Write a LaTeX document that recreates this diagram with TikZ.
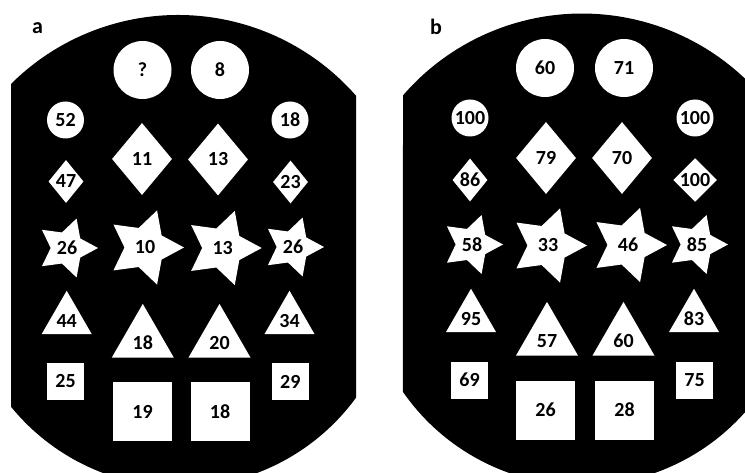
\documentclass[tikz,border=0pt]{standalone}
\usepackage{fontspec}
\setmainfont{Carlito}
\usetikzlibrary{shapes.geometric}

\begin{document}
\begin{tikzpicture}[
  x=1pt, y=-1pt,
  tile/.style={fill=white, inner sep=0pt, font=\bfseries\fontsize{20}{20}\selectfont},
  bigdisc/.style={tile, circle, minimum size=58},
  smalldisc/.style={tile, circle, minimum size=37},
  bigdia/.style={tile, diamond, minimum width=60, minimum height=72},
  smalldia/.style={tile, diamond, minimum width=35, minimum height=43},
  bigstar/.style={tile, star, star points=5, star point ratio=1.9, shape border rotate=-18, minimum size=78},
  smallstar/.style={bigstar, minimum size=62},
  bigtri/.style={tile, regular polygon, regular polygon sides=3, minimum size=71.6, text height=19pt, text depth=0pt},
  smalltri/.style={bigtri, minimum size=57.7, text height=15pt},
  bigsq/.style={tile, rectangle, minimum size=59},
  smallsq/.style={tile, rectangle, minimum size=37},
  tag/.style={font=\bfseries\fontsize{22}{22}\selectfont}
]
\useasboundingbox (0,0) rectangle (745,473);
\clip (0,0) rectangle (745,473);

% the two dark plates
\fill (11,84) arc[start angle=225.1, end angle=318.8, radius=236.6]
  -- (356,397.7) arc[start angle=36.17, end angle=140.82, radius=218] -- cycle;
\fill (403,95.4) arc[start angle=220.84, end angle=322.6, radius=236.6]
  -- (770,377.8) arc[start angle=30.4, end angle=145.2, radius=218] -- cycle;

\node[tag] (tagA) at (37.5,28.5) {a};
\node[tag] (tagB) at (436,27) {b};

% panel a
\node[bigdisc] (aC1) at (142.5,70) {?};
\node[bigdisc] (aC2) at (220,70) {8};
\node[smalldisc] (aC3) at (65.5,120) {52};
\node[smalldisc] (aC4) at (290,120) {18};
\node[bigdia] (aD1) at (142,159) {11};
\node[bigdia] (aD2) at (218,159.5) {13};
\node[smalldia] (aD3) at (66,181.5) {47};
\node[smalldia] (aD4) at (290.5,182) {23};
\node[smallstar] (aS1) at (67,248) {26};
\node[bigstar] (aS2) at (145,247.5) {10};
\node[bigstar] (aS3) at (222.7,248) {13};
\node[smallstar] (aS4) at (293,247) {26};
\node[smalltri] (aT1) at (66.7,319.6) {44};
\node[bigtri] (aT2) at (142.8,339.7) {18};
\node[bigtri] (aT3) at (219.5,339.7) {20};
\node[smalltri] (aT4) at (289.5,319.6) {34};
\node[smallsq] (aQ1) at (65.5,381.5) {25};
\node[bigsq] (aQ2) at (142.5,411.5) {19};
\node[bigsq] (aQ3) at (220,411.5) {18};
\node[smallsq] (aQ4) at (290.3,381.7) {29};

% panel b
\begin{scope}[shift={(404,-2)}]
\node[bigdisc] (bC1) at (141,70) {60};
\node[bigdisc] (bC2) at (220,70) {71};
\node[smalldisc] (bC3) at (66,120) {100};
\node[smalldisc] (bC4) at (291,120) {100};
\node[bigdia] (bD1) at (142,160) {79};
\node[bigdia] (bD2) at (218,160) {70};
\node[smalldia] (bD3) at (66,182) {86};
\node[smalldia] (bD4) at (291,182) {100};
\node[smallstar] (bS1) at (68,246.5) {58};
\node[bigstar] (bS2) at (144,247.5) {33};
\node[bigstar] (bS3) at (224,247) {46};
\node[smallstar] (bS4) at (293,246.5) {85};
\node[smalltri] (bT1) at (67,319.6) {95};
\node[bigtri] (bT2) at (143,339.7) {57};
\node[bigtri] (bT3) at (219.5,339.7) {60};
\node[smalltri] (bT4) at (290,319.6) {83};
\node[smallsq] (bQ1) at (65.5,382) {69};
\node[bigsq] (bQ2) at (141.5,412) {26};
\node[bigsq] (bQ3) at (220.5,412) {28};
\node[smallsq] (bQ4) at (290.5,382) {75};
\end{scope}
\end{tikzpicture}
\end{document}
